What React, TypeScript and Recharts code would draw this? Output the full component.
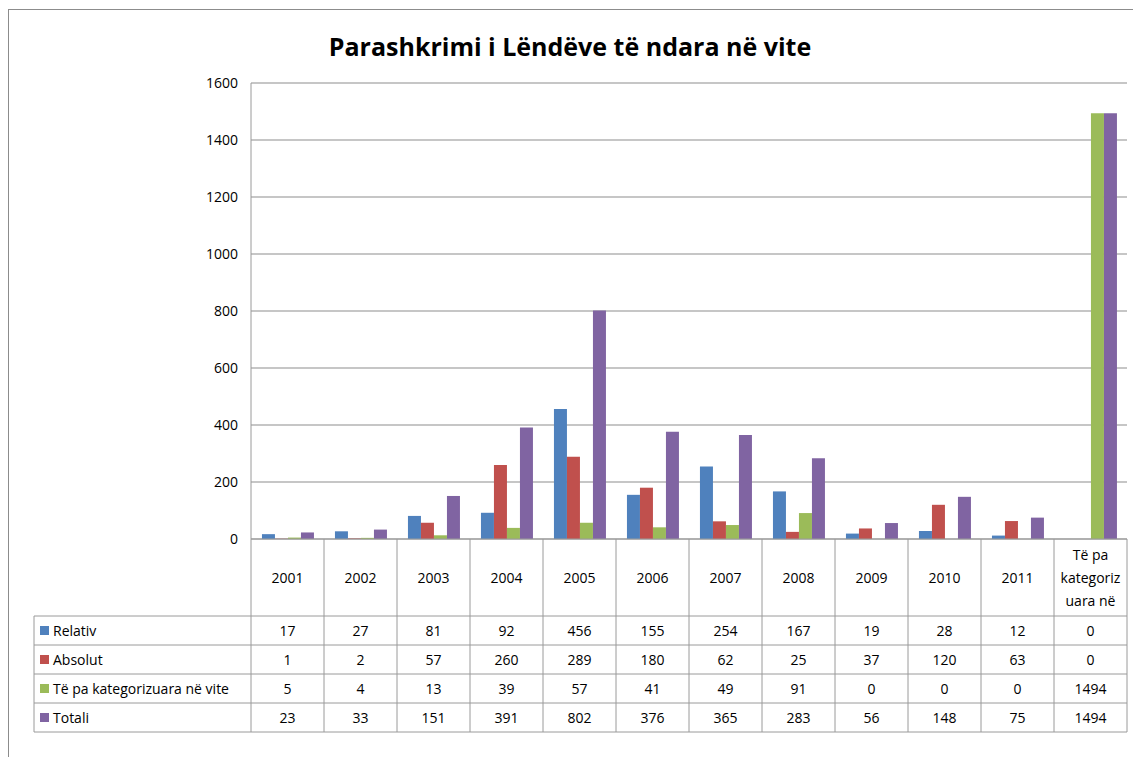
import React from "react";
import { BarChart, Bar, XAxis, YAxis, CartesianGrid } from "recharts";

const categories = ["2001", "2002", "2003", "2004", "2005", "2006", "2007", "2008", "2009", "2010", "2011", "Të pa kategorizuara në vite"];
const headerLines: string[][] = [["2001"], ["2002"], ["2003"], ["2004"], ["2005"], ["2006"], ["2007"], ["2008"], ["2009"], ["2010"], ["2011"], ["Të pa", "kategoriz", "uara në"]];
const relativ = [17, 27, 81, 92, 456, 155, 254, 167, 19, 28, 12, 0];
const absolut = [1, 2, 57, 260, 289, 180, 62, 25, 37, 120, 63, 0];
const paKategori = [5, 4, 13, 39, 57, 41, 49, 91, 0, 0, 0, 1494];
const totali = [23, 33, 151, 391, 802, 376, 365, 283, 56, 148, 75, 1494];
const yTicks = [0, 200, 400, 600, 800, 1000, 1200, 1400, 1600];

const seriesNames = ["Relativ", "Absolut", "Të pa kategorizuara në vite", "Totali"];
const seriesKeys = ["relativ", "absolut", "paKategori", "totali"];
const seriesValues = [relativ, absolut, paKategori, totali];
const colors = ["#4F81BD", "#C0504D", "#9BBB59", "#8064A2"];

const data = categories.map((c, i) => ({
  name: c,
  idx: i,
  relativ: relativ[i],
  absolut: absolut[i],
  paKategori: paKategori[i],
  totali: totali[i],
}));

const W = 1133;
const H = 757;
const PLOT_LEFT = 251;
const PLOT_RIGHT = 1127;
const PLOT_TOP = 83;
const PLOT_BOTTOM = 539;
const BAND = (PLOT_RIGHT - PLOT_LEFT) / categories.length;
const LEGEND_LEFT = 34;
const ROW_LINES = [616, 645, 674, 703, 732];
const FONT = "'Open Sans', sans-serif";
const FS = 14;
const LINE = "#9a9a9a";

const TableTick = (props: any) => {
  const { x, payload } = props;
  const i = payload.index;
  const left = x - BAND / 2;
  const right = x + BAND / 2;
  const lines = headerLines[i];
  const headerCenter = (PLOT_BOTTOM + ROW_LINES[0]) / 2;
  const lh = 23;
  return (
    <g>
      <line x1={left} x2={left} y1={PLOT_BOTTOM} y2={ROW_LINES[4]} stroke={LINE} strokeWidth={1} />
      {i === categories.length - 1 && (
        <line x1={right} x2={right} y1={PLOT_BOTTOM} y2={ROW_LINES[4]} stroke={LINE} strokeWidth={1} />
      )}
      {lines.map((t, k) => (
        <text
          key={k}
          x={x}
          y={headerCenter + (k - (lines.length - 1) / 2) * lh}
          textAnchor="middle"
          dominantBaseline="central"
          fontFamily={FONT}
          fontSize={FS}
          fill="#000"
        >
          {t}
        </text>
      ))}
      {seriesValues.map((vals, r) => (
        <text
          key={r}
          x={x}
          y={(ROW_LINES[r] + ROW_LINES[r + 1]) / 2}
          textAnchor="middle"
          dominantBaseline="central"
          fontFamily={FONT}
          fontSize={FS}
          fill="#000"
        >
          {vals[i]}
        </text>
      ))}
      {i === 0 && (
        <g>
          {ROW_LINES.map((y, k) => (
            <line key={k} x1={LEGEND_LEFT} x2={PLOT_RIGHT} y1={y} y2={y} stroke={LINE} strokeWidth={1} />
          ))}
          <line x1={LEGEND_LEFT} x2={LEGEND_LEFT} y1={ROW_LINES[0]} y2={ROW_LINES[4]} stroke={LINE} strokeWidth={1} />
          {seriesNames.map((n, r) => {
            const cy = (ROW_LINES[r] + ROW_LINES[r + 1]) / 2;
            return (
              <g key={r}>
                <rect x={40} y={cy - 4.5} width={9} height={9} fill={colors[r]} />
                <text x={53} y={cy} dominantBaseline="central" fontFamily={FONT} fontSize={FS} fill="#000">
                  {n}
                </text>
              </g>
            );
          })}
        </g>
      )}
    </g>
  );
};

export default function App() {
  const xAxisH = 30;
  const yAxisW = 60;
  return (
    <div style={{ position: "absolute", left: 0, top: 0, width: W, height: H, background: "#fff" }}>
      <div
        style={{
          position: "absolute",
          left: 8,
          top: 9,
          width: W,
          height: H,
          borderLeft: "1.5px solid #8c8c8c",
          borderTop: "1.5px solid #8c8c8c",
        }}
      />
      <div style={{ position: "absolute", left: 0, top: 0 }}>
        <BarChart
          width={W}
          height={H}
          data={data}
          margin={{ top: PLOT_TOP, left: PLOT_LEFT - yAxisW, right: W - PLOT_RIGHT, bottom: H - PLOT_BOTTOM - xAxisH }}
          barCategoryGap="15%"
          barGap={0}
        >
          <text
            x={570}
            y={46}
            textAnchor="middle"
            dominantBaseline="central"
            fontFamily={FONT}
            fontWeight="bold"
            fontSize={25}
            fill="#000"
          >
            Parashkrimi i Lëndëve të ndara në vite
          </text>
          <CartesianGrid vertical={false} stroke="#b3b3b3" strokeWidth={1.3} />
          <XAxis
            dataKey="name"
            height={xAxisH}
            interval={0}
            tickLine={false}
            axisLine={{ stroke: LINE }}
            tick={<TableTick />}
          />
          <YAxis
            width={yAxisW}
            domain={[0, 1600]}
            ticks={yTicks}
            tickLine={false}
            axisLine={{ stroke: LINE }}
            tickMargin={7}
            tick={{ fontFamily: FONT, fontSize: FS, fill: "#000" }}
          />
          {seriesKeys.map((k, r) => (
            <Bar key={k} dataKey={k} name={seriesNames[r]} fill={colors[r]} isAnimationActive={false} />
          ))}
        </BarChart>
      </div>
    </div>
  );
}
